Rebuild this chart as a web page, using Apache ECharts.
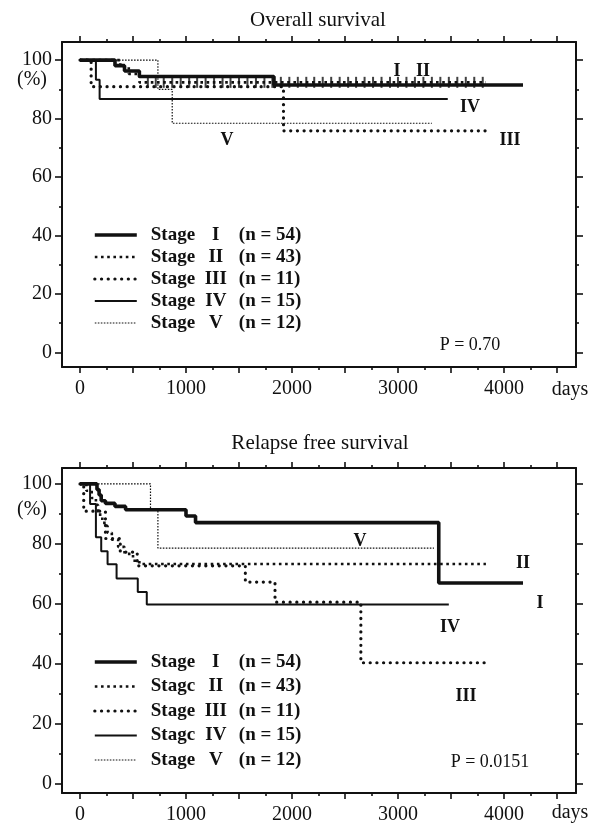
<!DOCTYPE html>
<html><head><meta charset="utf-8">
<script src="https://cdn.jsdelivr.net/npm/echarts@6/dist/echarts.min.js"></script>
<style>html,body{margin:0;padding:0;background:#fff}#c{width:592px;height:828px}</style>
</head><body><div id="c"></div>
<script>
// ---------------- data ----------------
const stageNames = ['Stage I', 'Stage II', 'Stage III', 'Stage IV', 'Stage V'];
const stageNumerals = ['I', 'II', 'III', 'IV', 'V'];
const stageWordTop = ['Stage', 'Stage', 'Stage', 'Stage', 'Stage'];
const stageWordBottom = ['Stage', 'Stagc', 'Stage', 'Stagc', 'Stage'];
const stageCounts = [54, 43, 11, 15, 12];

const xMajorTicks = [0, 500, 1000, 1500, 2000, 2500, 3000, 3500, 4000, 4500];
const xMinorTicks = [250, 750, 1250, 1750, 2250, 2750, 3250, 3750, 4250];
const xLabelValues = [0, 1000, 2000, 3000, 4000];
const yMajorTicks = [0, 20, 40, 60, 80, 100];
const yMinorTicks = [10, 30, 50, 70, 90];

// Overall survival: [days, %]
const osI   = [[0,100],[330,98.1],[420,96.3],[560,94.4],[1830,91.5],[4180,91.5]];
const osII  = [[0,100],[380,97.7],[460,95.3],[560,92.4],[3830,92.4]];
const osIII = [[0,100],[105,90.9],[1920,75.8],[3830,75.8]];
const osIV  = [[0,100],[150,93.3],[185,86.7],[3470,86.7]];
const osV   = [[0,100],[735,90.0],[870,78.4],[3320,78.4]];
const osIICensorDays = [640,715,790,870,950,1030,1105,1185,1265,1345,1420,1500,1580,1660,1740,1815,1895,1975,2055,2135,2210,2290,2370,2450,2530,2605,2685,2765,2845,2925,3000,3080,3160,3240,3320,3400,3480,3560,3640,3720,3800];
const osIICensorLevel = 92.4;

// Relapse free survival: [days, %]
const rfsI   = [[0,100],[160,98.1],[180,96.3],[200,94.4],[240,93.5],[330,92.5],[430,91.4],[1000,89.3],[1090,87.1],[3385,67.0],[4180,67.0]];
const rfsII  = [[0,100],[60,97.7],[110,95.3],[150,93.0],[170,90.7],[190,88.4],[230,86.0],[260,83.7],[300,81.4],[360,79.0],[420,76.7],[500,74.4],[560,73.3],[3830,73.3]];
const rfsIII = [[0,100],[35,90.9],[240,81.8],[380,77.3],[540,72.7],[1560,67.3],[1840,60.6],[2650,40.4],[3850,40.4]];
const rfsIV  = [[0,100],[95,93.3],[150,82.2],[200,77.6],[260,73.2],[345,68.5],[545,64.0],[630,59.8],[3480,59.8]];
const rfsV   = [[0,100],[665,91.7],[735,78.6],[3340,78.6]];

const titles = ['Overall survival', 'Relapse free survival'];
const pValues = ['P = 0.70', 'P = 0.0151'];

// ---------------- styles ----------------
const INK = '#111';
const SERIF = '"Liberation Serif", "DejaVu Serif", serif';
const lineStyles = [
  {width: 3.6, type: 'solid'},
  {width: 2.6, type: [2.6, 3.6]},
  {width: 3.2, type: [0.1, 6.6], cap: 'round'},
  {width: 2.0, type: 'solid'},
  {width: 1.2, type: [1.6, 1.4]}
];
const xMin = -170, xMax = 4680;
const grids = [
  {left: 62, right: 16, top: 42, bottom: 461, yMin: -5.0, yMax: 106.2},
  {left: 62, right: 16, top: 468, bottom: 35, yMin: -3.0, yMax: 105.3}
];
const plainNum = v => String(Math.round(v));

const xAxes = [], yAxes = [];
grids.forEach((g, gi) => {
  const tickStyle = {color: INK, width: 1.6};
  const lineS = {color: INK, width: 2};
  const cx = {type: 'value', gridIndex: gi, min: xMin, max: xMax, splitLine: {show: false}};
  xAxes.push(
    Object.assign({}, cx, {position: 'bottom', axisLine: {show: true, onZero: false, lineStyle: lineS},
      axisTick: {show: true, customValues: xMajorTicks, length: 6, lineStyle: tickStyle},
      axisLabel: {show: true, customValues: xLabelValues, formatter: plainNum, fontSize: 20, fontFamily: SERIF, color: INK, margin: 12}}),
    Object.assign({}, cx, {position: 'bottom', axisLine: {show: false, onZero: false},
      axisTick: {show: true, customValues: xMinorTicks, length: 3, lineStyle: tickStyle}, axisLabel: {show: false}}),
    Object.assign({}, cx, {position: 'top', axisLine: {show: true, onZero: false, lineStyle: lineS},
      axisTick: {show: true, customValues: xMajorTicks, length: 6, lineStyle: tickStyle}, axisLabel: {show: false}}),
    Object.assign({}, cx, {position: 'top', axisLine: {show: false, onZero: false},
      axisTick: {show: true, customValues: xMinorTicks, length: 3, lineStyle: tickStyle}, axisLabel: {show: false}})
  );
  const cy = {type: 'value', gridIndex: gi, min: g.yMin, max: g.yMax, splitLine: {show: false}};
  yAxes.push(
    Object.assign({}, cy, {position: 'left', axisLine: {show: true, onZero: false, lineStyle: lineS},
      axisTick: {show: true, customValues: yMajorTicks, length: 7, lineStyle: tickStyle},
      axisLabel: {show: true, customValues: yMajorTicks, formatter: plainNum, fontSize: 20, fontFamily: SERIF, color: INK, margin: 10}}),
    Object.assign({}, cy, {position: 'left', axisLine: {show: false, onZero: false},
      axisTick: {show: true, customValues: yMinorTicks, length: 3, lineStyle: tickStyle}, axisLabel: {show: false}}),
    Object.assign({}, cy, {position: 'right', axisLine: {show: true, onZero: false, lineStyle: lineS},
      axisTick: {show: true, customValues: yMajorTicks, length: 7, lineStyle: tickStyle}, axisLabel: {show: false}}),
    Object.assign({}, cy, {position: 'right', axisLine: {show: false, onZero: false},
      axisTick: {show: true, customValues: yMinorTicks, length: 3, lineStyle: tickStyle}, axisLabel: {show: false}})
  );
});

const chartData = [[osI, osII, osIII, osIV, osV], [rfsI, rfsII, rfsIII, rfsIV, rfsV]];
const series = [];
chartData.forEach((sets, gi) => {
  for (let k = sets.length - 1; k >= 0; k--) {
    series.push({
      type: 'line', name: stageNames[k], step: 'end', symbol: 'none', silent: true,
      xAxisIndex: gi * 4, yAxisIndex: gi * 4, data: sets[k],
      lineStyle: Object.assign({color: INK}, lineStyles[k]), color: INK, z: 3 + (sets.length - k)
    });
  }
});
series.push({
  type: 'scatter', name: 'Stage II censored', xAxisIndex: 0, yAxisIndex: 0, silent: true,
  symbol: 'rect', symbolSize: [2, 11], itemStyle: {color: INK}, z: 9,
  data: osIICensorDays.map(d => [d, osIICensorLevel])
});

function legendFor(top, gap, words) {
  const base = {fontFamily: SERIF, fontWeight: 'bold', fontSize: 19, color: INK, lineHeight: 20};
  return {
    data: stageNames.map((n, k) => ({
      name: n,
      lineStyle: Object.assign({color: INK}, lineStyles[k]),
      itemStyle: {opacity: 0, borderWidth: 0}
    })),
    orient: 'vertical', left: 93, top: top, itemWidth: 42, itemHeight: 14, itemGap: gap,
    selectedMode: false, padding: 0,
    itemStyle: {opacity: 0, borderWidth: 0},
    formatter: name => {
      const k = stageNames.indexOf(name);
      return '{s|' + words[k] + '}{r|' + stageNumerals[k] + '}{n|(n = ' + stageCounts[k] + ')}';
    },
    textStyle: Object.assign({}, base, {
      rich: {
        s: Object.assign({}, base, {width: 50, padding: [0, 0, 0, 9]}),
        r: Object.assign({}, base, {width: 30, align: 'center'}),
        n: Object.assign({}, base, {padding: [0, 0, 0, 8]})
      }
    })
  };
}

function txt(text, x, y, font, align) {
  return {type: 'text', x: x, y: y, silent: true, z: 20,
    style: {text: text, font: font, fill: INK, align: align || 'center', verticalAlign: 'middle'}};
}
const BOLD = 'bold 18px ' + SERIF;
const REG = '18px ' + SERIF;
const graphics = [
  txt(titles[0], 318, 20, '21px ' + SERIF),
  txt(titles[1], 320, 443, '21px ' + SERIF),
  txt('(%)', 47, 80, '20px ' + SERIF, 'right'),
  txt('(%)', 47, 510, '20px ' + SERIF, 'right'),
  txt('days', 570, 390, '20px ' + SERIF),
  txt('days', 570, 813, '20px ' + SERIF),
  txt(stageNumerals[0], 397, 71, BOLD), txt(stageNumerals[1], 423, 71, BOLD),
  txt(stageNumerals[3], 470, 107, BOLD), txt(stageNumerals[2], 510, 140, BOLD),
  txt(stageNumerals[4], 227, 140, BOLD),
  txt(pValues[0], 470, 345, REG),
  txt(stageNumerals[4], 360, 541, BOLD), txt(stageNumerals[1], 523, 563, BOLD),
  txt(stageNumerals[0], 540, 603, BOLD), txt(stageNumerals[3], 450, 627, BOLD),
  txt(stageNumerals[2], 466, 696, BOLD),
  txt(pValues[1], 490, 762, REG)
];

const chart = echarts.init(document.getElementById('c'), null, {renderer: 'canvas'});
chart.setOption({
  animation: false,
  backgroundColor: '#fff',
  grid: grids.map(g => ({left: g.left, right: g.right, top: g.top, bottom: g.bottom, containLabel: false})),
  xAxis: xAxes,
  yAxis: yAxes,
  legend: [legendFor(225, 2, stageWordTop), legendFor(652, 4.5, stageWordBottom)],
  series: series,
  graphic: graphics
});
</script></body></html>
